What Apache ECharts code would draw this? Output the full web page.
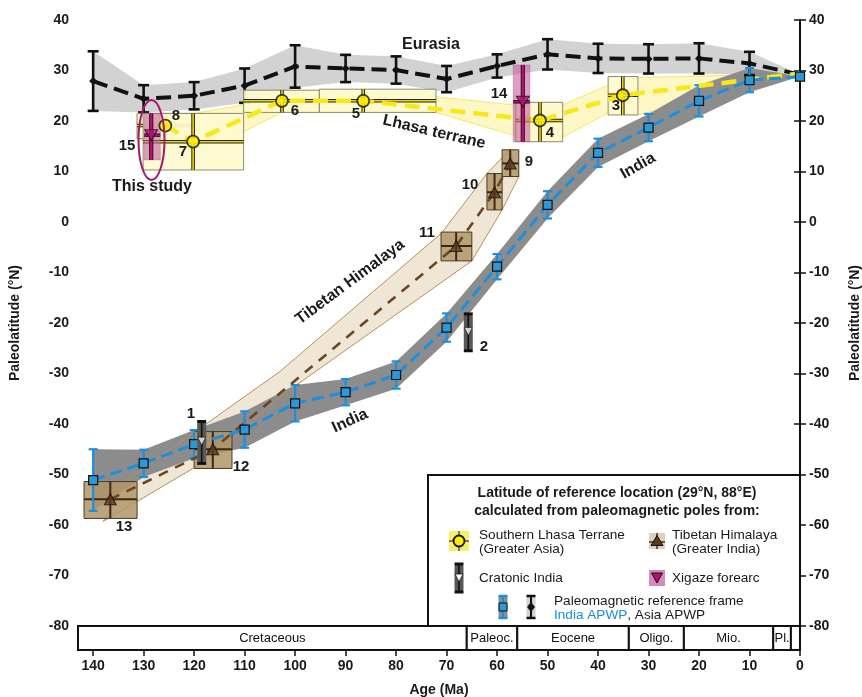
<!DOCTYPE html>
<html><head><meta charset="utf-8">
<script src="https://cdn.jsdelivr.net/npm/echarts@6/dist/echarts.min.js"></script>
<style>html,body{margin:0;padding:0;background:#fff}#c{width:862px;height:697px}</style>
</head><body><div id="c"></div>
<script>
const FONT = '"Liberation Sans", Arial, sans-serif';

// ---- Asia APWP (Eurasia) ----
const asiaAge = [140,130,120,110,100,90,80,70,60,50,40,30,20,10,0];
const asiaLat = [27.9,24.4,25.0,27.0,30.8,30.4,30.1,28.3,30.9,33.2,32.4,32.3,32.4,31.4,29.2];
const asiaErr = [5.9,2.7,2.7,3.4,4.2,2.7,2.7,2.6,2.3,3.0,2.9,2.9,3.0,2.3,0];

// ---- India APWP ----
const indiaAge = [140,130,120,110,100,90,80,70,60,50,40,30,20,10,0];
const indiaLat = [-51.1,-47.8,-44.0,-41.1,-35.9,-33.7,-30.3,-20.9,-8.85,3.4,13.7,18.7,24.0,28.1,28.8];
const indiaErr = [6.1,2.7,2.8,3.6,3.6,2.6,2.7,2.8,2.5,2.7,2.8,2.7,3.1,2.4,0];

// ---- Southern Lhasa terrane poles ----
const lhasaId     = ['8','7','6','5','4','3'];
const lhasaAge    = [125.7,120.2,102.6,86.5,51.5,35.1];
const lhasaLat    = [19.1,15.9,24.0,24.0,20.1,25.1];
const lhasaAgeMin = [120.0,110.2,95.2,72.1,47.0,32.1];
const lhasaAgeMax = [131.3,130.1,110.2,95.2,56.3,38.0];
const lhasaLatMin = [16.5,10.3,21.7,21.7,15.9,21.2];
const lhasaLatMax = [21.5,21.5,26.1,26.3,23.7,28.8];
const lhasaEnd    = [0, 29.4];
const lhasaBandTop    = [[131.3,21.5],[120.0,21.5],[110.2,23.2],[102.6,25.5],[95.2,26.1],[72.1,24.8],[56.8,23.2],[47.0,23.2],[38.0,27.1],[32.1,28.6],[0,29.4]];
const lhasaBandBottom = [[131.3,16.5],[120.2,12.9],[110.2,17.9],[102.6,21.7],[72.1,21.7],[56.8,17.2],[47.0,16.8],[38.0,21.6],[32.1,21.2],[0,29.4]];

// ---- Tibetan Himalaya poles ----
const thId     = ['13','12','11','10','9'];
const thAge    = [136.6,116.3,68.1,60.5,57.4];
const thLat    = [-54.9,-45.0,-4.75,5.9,11.6];
const thAgeMin = [131.3,112.5,65.0,59.0,55.7];
const thAgeMax = [141.8,120.0,71.1,62.0,59.0];
const thLatMin = [-58.7,-48.8,-7.7,2.4,9.0];
const thLatMax = [-51.4,-41.5,-2.0,9.6,14.3];
const thBandTop    = [[133.3,-51.1],[103.0,-29.6],[71.0,-2.2],[62.0,9.6],[57.5,14.3]];
const thBandBottom = [[138.0,-59.3],[116.3,-46.5],[103.0,-34.6],[65.0,-7.7],[59.0,2.4],[55.7,9.0]];

// ---- Cratonic India poles ----
const cratId    = ['1','2'];
const cratAge   = [118.5,65.7];
const cratLat   = [-43.4,-21.7];
const cratLatMin= [-47.8,-25.5];
const cratLatMax= [-39.5,-18.2];

// ---- Xigaze forearc poles ----
const xigId     = ['15','14'];
const xigAge    = [128.5,54.9];
const xigLat    = [17.2,23.8];
const xigAgeMin = [126.7,53.5];
const xigAgeMax = [129.9,56.8];
const xigLatMin = [12.3,15.9];
const xigLatMax = [21.5,31.1];

// ---- Geological time scale ----
const periodName  = ['Cretaceous','Paleoc.','Eocene','Oligo.','Mio.','Pl.',''];
const periodStart = [143,66,56,33.9,23,5.3,1.8];
const periodEnd   = [66,56,33.9,23,5.3,1.8,0];

const xTicks = [0,10,20,30,40,50,60,70,80,90,100,110,120,130,140];

// ---------------------------------------------------------
const chart = echarts.init(document.getElementById('c'), null, {renderer:'canvas'});

function bandSeries(top, bottom, style, z){
  return {type:'custom', xAxisIndex:0, yAxisIndex:0, z, silent:true, clip:true,
    data:[[0,0]],
    renderItem:(p, api)=>{
      const pts = top.map(q=>api.coord(q)).concat(bottom.slice().reverse().map(q=>api.coord(q)));
      return {type:'polygon', shape:{points:pts}, style};
    }};
}
function errSeries(age, lat, err, color, w, hw, z){
  const d = age.map((a,i)=>[a, lat[i]-err[i], lat[i]+err[i]]).filter(r=>r[2]>r[1]);
  return {type:'custom', xAxisIndex:0, yAxisIndex:0, z, silent:true, data:d,
    renderItem:(p, api)=>{
      const lo = api.coord([api.value(0), api.value(1)]);
      const hi = api.coord([api.value(0), api.value(2)]);
      const st = {stroke:color, lineWidth:w};
      return {type:'group', children:[
        {type:'line', shape:{x1:lo[0],y1:lo[1],x2:hi[0],y2:hi[1]}, style:st},
        {type:'line', shape:{x1:lo[0]-hw,y1:lo[1],x2:lo[0]+hw,y2:lo[1]}, style:st},
        {type:'line', shape:{x1:hi[0]-hw,y1:hi[1],x2:hi[0]+hw,y2:hi[1]}, style:st}
      ]};
    }};
}
function boxSeries(age, lat, a0, a1, l0, l1, opt, z){
  const d = age.map((a,i)=>[a, lat[i], a0[i], a1[i], l0[i], l1[i]]);
  return {type:'custom', xAxisIndex:0, yAxisIndex:0, z, silent:true, data:d,
    renderItem:(p, api)=>{
      const c  = api.coord([api.value(0), api.value(1)]);
      const pA = api.coord([api.value(3), api.value(5)]);
      const pB = api.coord([api.value(2), api.value(4)]);
      const x = Math.min(pA[0],pB[0]), y = Math.min(pA[1],pB[1]);
      const w = Math.abs(pB[0]-pA[0]), h = Math.abs(pB[1]-pA[1]);
      const ch = [{type:'rect', shape:{x,y,width:w,height:h}, style:{fill:opt.fill, stroke:opt.stroke, lineWidth:1}}];
      if (opt.outline){
        ch.push({type:'line', shape:{x1:x,y1:c[1],x2:x+w,y2:c[1]}, style:{stroke:opt.outline, lineWidth:opt.hw+2}});
        ch.push({type:'line', shape:{x1:c[0],y1:y,x2:c[0],y2:y+h}, style:{stroke:opt.outline, lineWidth:opt.vw+2}});
      }
      ch.push({type:'line', shape:{x1:x,y1:c[1],x2:x+w,y2:c[1]}, style:{stroke:opt.line, lineWidth:opt.hw}});
      ch.push({type:'line', shape:{x1:c[0],y1:y,x2:c[0],y2:y+h}, style:{stroke:opt.line, lineWidth:opt.vw}});
      return {type:'group', children:ch};
    }};
}

const series = [
  bandSeries(asiaAge.map((a,i)=>[a,asiaLat[i]+asiaErr[i]]), asiaAge.map((a,i)=>[a,asiaLat[i]-asiaErr[i]]), {fill:'#d2d2d2'}, 1),
  bandSeries(lhasaBandTop, lhasaBandBottom, {fill:'#fdf7c6', stroke:'#f3e34a', lineWidth:0.8}, 1),
  bandSeries(thBandTop, thBandBottom, {fill:'#efe6d5'}, 1),
  bandSeries(indiaAge.map((a,i)=>[a,indiaLat[i]+indiaErr[i]]), indiaAge.map((a,i)=>[a,indiaLat[i]-indiaErr[i]]), {fill:'#8c8c8c'}, 2),
  bandSeries(thBandTop, thBandBottom, {fill:'none', stroke:'#b6925c', lineWidth:1}, 3),
  // Eurasia
  errSeries(asiaAge, asiaLat, asiaErr, '#111', 2.6, 5.5, 4),
  {type:'line', xAxisIndex:0, yAxisIndex:0, z:4, silent:true,
   data: asiaAge.map((a,i)=>[a, asiaLat[i]]),
   symbol:'diamond', symbolSize:8, itemStyle:{color:'#111'},
   lineStyle:{color:'#111', width:4, type:[15,7]}},
  // boxes
  boxSeries(lhasaAge, lhasaLat, lhasaAgeMin, lhasaAgeMax, lhasaLatMin, lhasaLatMax,
    {fill:'rgba(254,250,205,0.92)', stroke:'#8a8a70', line:'#ecd900', outline:'#222', hw:1.6, vw:1.6}, 5),
  boxSeries(thAge, thLat, thAgeMin, thAgeMax, thLatMin, thLatMax,
    {fill:'rgba(178,150,105,0.85)', stroke:'#4a3a28', line:'#3a2814', outline:null, hw:2, vw:2}, 5),
  // lines
  {type:'line', xAxisIndex:0, yAxisIndex:0, z:6, silent:true,
   data: lhasaAge.map((a,i)=>[a, lhasaLat[i]]).concat([lhasaEnd]),
   symbol:'none', lineStyle:{color:'#f7e81a', width:4.5, type:[15,8]}},
  {type:'line', xAxisIndex:0, yAxisIndex:0, z:6, silent:true,
   data: thAge.map((a,i)=>[a, thLat[i]]),
   symbol:'none', lineStyle:{color:'#6b4524', width:2.6, type:[10,8]}},
  errSeries(indiaAge, indiaLat, indiaErr, '#1a90e0', 2.2, 4.5, 6),
  {type:'line', xAxisIndex:0, yAxisIndex:0, z:6, silent:true,
   data: indiaAge.map((a,i)=>[a, indiaLat[i]]),
   symbol:'rect', symbolSize:9, itemStyle:{color:'#2b98da', borderColor:'#111', borderWidth:1.2},
   lineStyle:{color:'#1a90e0', width:3, type:[12,6]}},
  // Xigaze boxes
  boxSeries(xigAge, xigLat, xigAgeMin, xigAgeMax, xigLatMin, xigLatMax,
    {fill:'rgba(196,96,158,0.6)', stroke:'rgba(150,60,120,0.3)', line:'#b5127a', outline:'#3a1028', hw:1.5, vw:2.2}, 7),
  // Cratonic India bars
  {type:'custom', xAxisIndex:0, yAxisIndex:0, z:7, silent:true,
   data: cratAge.map((a,i)=>[a, cratLatMin[i], cratLatMax[i]]),
   renderItem:(p, api)=>{
     const lo = api.coord([api.value(0), api.value(1)]);
     const hi = api.coord([api.value(0), api.value(2)]);
     return {type:'group', children:[
       {type:'rect', shape:{x:lo[0]-4.5, y:hi[1], width:9, height:lo[1]-hi[1], r:3}, style:{fill:'#585858'}},
       {type:'line', shape:{x1:lo[0],y1:lo[1],x2:hi[0],y2:hi[1]}, style:{stroke:'#111', lineWidth:1.6}},
       {type:'line', shape:{x1:lo[0]-4.5,y1:lo[1],x2:lo[0]+4.5,y2:lo[1]}, style:{stroke:'#111', lineWidth:3}},
       {type:'line', shape:{x1:hi[0]-4.5,y1:hi[1],x2:hi[0]+4.5,y2:hi[1]}, style:{stroke:'#111', lineWidth:3}}
     ]};
   }},
  // markers
  {type:'scatter', xAxisIndex:0, yAxisIndex:0, z:8, silent:true,
   data: lhasaAge.map((a,i)=>[a, lhasaLat[i]]), symbol:'circle', symbolSize:12,
   itemStyle:{color:'#ffec00', borderColor:'#111', borderWidth:1.8}},
  {type:'scatter', xAxisIndex:0, yAxisIndex:0, z:8, silent:true,
   data: thAge.map((a,i)=>[a, thLat[i]]), symbol:'triangle', symbolSize:[12,11],
   itemStyle:{color:'#5b3a1a', borderColor:'#111', borderWidth:1}},
  {type:'scatter', xAxisIndex:0, yAxisIndex:0, z:8, silent:true,
   data: xigAge.map((a,i)=>[a, xigLat[i]]), symbol:'triangle', symbolRotate:180, symbolSize:[13,11],
   itemStyle:{color:'#b0106e', borderColor:'#111', borderWidth:1}},
  {type:'scatter', xAxisIndex:0, yAxisIndex:0, z:8, silent:true,
   data: cratAge.map((a,i)=>[a, cratLat[i]]), symbol:'triangle', symbolRotate:180, symbolSize:[8,8],
   itemStyle:{color:'#fff', borderColor:'#111', borderWidth:0.8}},
  // timescale
  {type:'custom', xAxisIndex:1, yAxisIndex:2, z:5, silent:true,
   data: periodName.map((n,i)=>[periodStart[i], periodEnd[i], n]),
   renderItem:(p, api)=>{
     const a = api.coord([api.value(0), 1]);
     const b = api.coord([api.value(1), 0]);
     return {type:'rect', shape:{x:a[0], y:a[1], width:b[0]-a[0], height:b[1]-a[1]},
       style:{fill:'#fff', stroke:'#111', lineWidth:2},
       textContent:{style:{text:api.value(2), font:'13px '+FONT, fill:'#111'}},
       textConfig:{position:'inside'}};
   }}
];

function T(text, x, y, size, opts){
  opts = opts || {};
  return {type:'text', x, y, rotation: opts.rot || 0, z:100,
    style:{text, font:(opts.weight||'bold')+' '+size+'px '+FONT, fill:opts.color||'#1a1a1a',
      textAlign:opts.align||'center', textVerticalAlign:'middle', rich:opts.rich}};
}

const LF = 13.6;
const graphics = [
  // annotations
  T('Eurasia', 431, 45, 16),
  T('Lhasa terrane', 434, 132, 16, {rot:-0.23}),
  T('This study', 152, 187, 16),
  T('Tibetan Himalaya', 350, 282, 16, {rot:0.64}),
  T('India', 350, 421, 16, {rot:0.43}),
  T('India', 638, 166, 16, {rot:0.52}),
  T('8',176,116,15), T('7',183,152,15), T('6',295,111,15), T('5',356,114,15),
  T('14',499,94,15), T('4',550,133,15), T('3',616,106,15), T('9',529,162,15),
  T('10',470,185,15), T('11',427,233,15), T('2',484,347,15), T('1',191,414,15),
  T('12',241,467,15), T('13',124,527,15), T('15',127,146,15),
  {type:'ellipse', z:100, shape:{cx:151.5, cy:140, rx:13, ry:40}, style:{fill:'none', stroke:'#a3196e', lineWidth:2}},
  // legend box
  {type:'rect', z:90, shape:{x:428, y:475, width:372, height:151}, style:{fill:'#fff', stroke:'#111', lineWidth:2}},
  T('Latitude of reference location (29°N, 88°E)', 617, 493, 14),
  T('calculated from paleomagnetic poles from:', 617, 511, 14),
  // lhasa icon
  {type:'rect', z:100, shape:{x:449, y:531, width:20, height:20}, style:{fill:'#f6ef6a'}},
  {type:'line', z:101, shape:{x1:449,y1:541,x2:469,y2:541}, style:{stroke:'#333', lineWidth:1.2}},
  {type:'line', z:101, shape:{x1:459,y1:531,x2:459,y2:551}, style:{stroke:'#333', lineWidth:1.2}},
  {type:'circle', z:102, shape:{cx:459, cy:541, r:5.5}, style:{fill:'#ffec00', stroke:'#111', lineWidth:1.8}},
  T('Southern Lhasa Terrane', 479, 535, LF, {align:'left', weight:'normal'}),
  T('(Greater Asia)', 479, 549, LF, {align:'left', weight:'normal'}),
  // TH icon
  {type:'rect', z:100, shape:{x:649, y:533, width:16, height:16}, style:{fill:'#dcd2bf'}},
  {type:'line', z:101, shape:{x1:649,y1:542,x2:665,y2:542}, style:{stroke:'#3a2814', lineWidth:1.4}},
  {type:'line', z:101, shape:{x1:657,y1:533,x2:657,y2:549}, style:{stroke:'#3a2814', lineWidth:1.4}},
  {type:'polygon', z:102, shape:{points:[[657,535.5],[663,545.5],[651,545.5]]}, style:{fill:'#5b3a1a', stroke:'#111', lineWidth:1}},
  T('Tibetan Himalaya', 672, 535, LF, {align:'left', weight:'normal'}),
  T('(Greater India)', 672, 549, LF, {align:'left', weight:'normal'}),
  // cratonic icon
  {type:'rect', z:100, shape:{x:454.5, y:564, width:9, height:28, r:3}, style:{fill:'#585858'}},
  {type:'line', z:101, shape:{x1:459,y1:564,x2:459,y2:592}, style:{stroke:'#111', lineWidth:1.6}},
  {type:'line', z:101, shape:{x1:454.5,y1:564,x2:463.5,y2:564}, style:{stroke:'#111', lineWidth:3}},
  {type:'line', z:101, shape:{x1:454.5,y1:592,x2:463.5,y2:592}, style:{stroke:'#111', lineWidth:3}},
  {type:'polygon', z:102, shape:{points:[[455,574],[463,574],[459,582]]}, style:{fill:'#fff', stroke:'#111', lineWidth:0.8}},
  T('Cratonic India', 479, 578, LF, {align:'left', weight:'normal'}),
  // xigaze icon
  {type:'rect', z:100, shape:{x:649, y:570, width:16, height:16}, style:{fill:'#d48bbb'}},
  {type:'polygon', z:102, shape:{points:[[651.5,573],[662.5,573],[657,583]]}, style:{fill:'#b0106e', stroke:'#111', lineWidth:1}},
  T('Xigaze forearc', 672, 578, LF, {align:'left', weight:'normal'}),
  // India APWP icon
  {type:'rect', z:100, shape:{x:498.5, y:596, width:9, height:22}, style:{fill:'#8c8c8c'}},
  {type:'line', z:101, shape:{x1:503,y1:596,x2:503,y2:618}, style:{stroke:'#1a90e0', lineWidth:2}},
  {type:'line', z:101, shape:{x1:498.5,y1:596,x2:507.5,y2:596}, style:{stroke:'#1a90e0', lineWidth:2.5}},
  {type:'line', z:101, shape:{x1:498.5,y1:618,x2:507.5,y2:618}, style:{stroke:'#1a90e0', lineWidth:2.5}},
  {type:'rect', z:102, shape:{x:499, y:603, width:8, height:8}, style:{fill:'#2b98da', stroke:'#111', lineWidth:1}},
  // Asia APWP icon
  {type:'rect', z:100, shape:{x:526.5, y:596, width:9, height:22}, style:{fill:'#d2d2d2'}},
  {type:'line', z:101, shape:{x1:531,y1:596,x2:531,y2:618}, style:{stroke:'#111', lineWidth:2}},
  {type:'line', z:101, shape:{x1:526.5,y1:596,x2:535.5,y2:596}, style:{stroke:'#111', lineWidth:2.5}},
  {type:'line', z:101, shape:{x1:526.5,y1:618,x2:535.5,y2:618}, style:{stroke:'#111', lineWidth:2.5}},
  {type:'polygon', z:102, shape:{points:[[531,602],[535,607],[531,612],[527,607]]}, style:{fill:'#111'}},
  T('Paleomagnetic reference frame', 554, 601, LF, {align:'left', weight:'normal'}),
  {type:'text', x:554, y:615, z:100, style:{text:'{b|India APWP}{k|, Asia APWP}', textAlign:'left', textVerticalAlign:'middle',
     rich:{b:{font:LF+'px '+FONT, fill:'#1a8fe0'}, k:{font:LF+'px '+FONT, fill:'#1a1a1a'}}}}
];

const axisFont = {fontFamily:FONT, fontWeight:'bold', fontSize:14, color:'#1a1a1a'};

chart.setOption({
  animation:false,
  backgroundColor:'#fff',
  grid:[
    {left:78, right:62, top:20, height:606, outerBoundsMode:'none', containLabel:false},
    {left:78, right:62, top:626, height:24, outerBoundsMode:'none', containLabel:false}
  ],
  xAxis:[
    {gridIndex:0, type:'value', inverse:true, min:0, max:143, show:false, splitLine:{show:false}},
    {gridIndex:1, type:'value', inverse:true, min:0, max:143, interval:10,
     name:'Age (Ma)', nameLocation:'middle', nameGap:33,
     nameTextStyle:{fontFamily:FONT, fontWeight:'bold', fontSize:14, color:'#1a1a1a'},
     axisLine:{show:false}, splitLine:{show:false},
     axisTick:{show:true, inside:false, length:6, customValues:xTicks, lineStyle:{color:'#111', width:1.5}},
     axisLabel:Object.assign({margin:9, customValues:xTicks,
       formatter:v=> (v%10===0 ? String(v) : '')}, axisFont)}
  ],
  yAxis:[
    {gridIndex:0, type:'value', min:-80, max:40, interval:10, position:'left',
     name:'Paleolatitude (°N)', nameLocation:'middle', nameGap:56, nameRotate:90,
     nameTextStyle:{fontFamily:FONT, fontWeight:'bold', fontSize:14, color:'#1a1a1a'},
     axisLine:{show:true, lineStyle:{color:'#111', width:2}},
     axisTick:{show:true, length:6, lineStyle:{color:'#111', width:1.5}},
     axisLabel:Object.assign({margin:9}, axisFont), splitLine:{show:false}},
    {gridIndex:0, type:'value', min:-80, max:40, interval:10, position:'right',
     name:'Paleolatitude (°N)', nameLocation:'middle', nameGap:48, nameRotate:90,
     nameTextStyle:{fontFamily:FONT, fontWeight:'bold', fontSize:14, color:'#1a1a1a'},
     axisLine:{show:true, lineStyle:{color:'#111', width:2}},
     axisTick:{show:true, length:6, lineStyle:{color:'#111', width:1.5}},
     axisLabel:Object.assign({margin:9}, axisFont), splitLine:{show:false}},
    {gridIndex:1, type:'value', min:0, max:1, show:false}
  ],
  series,
  graphic: graphics
});
</script></body></html>
